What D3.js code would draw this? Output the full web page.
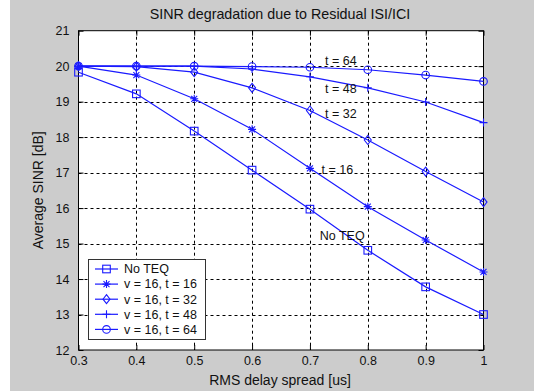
<!DOCTYPE html>
<html>
<head>
<meta charset="utf-8">
<script src="https://cdn.jsdelivr.net/npm/d3@7"></script>
<style>
  html, body { margin: 0; padding: 0; background: #fff; }
  svg { display: block; }
  text { font-family: "Liberation Sans", Arial, sans-serif; fill: #111; }
</style>
</head>
<body>
<svg id="chart" width="534" height="391"></svg>
<script>
// values
var delaySpread = [0.3, 0.4, 0.5, 0.6, 0.7, 0.8, 0.9, 1.0];
var noTeq = [19.83, 19.22, 18.17, 17.07, 15.97, 14.81, 13.78, 13.0];
var t16 = [20.0, 19.75, 19.08, 18.22, 17.12, 16.04, 15.10, 14.2];
var t32 = [20.0, 19.99, 19.83, 19.39, 18.75, 17.92, 17.03, 16.17];
var t48 = [20.0, 20.0, 20.0, 19.92, 19.70, 19.39, 18.99, 18.41];
var t64 = [20.0, 20.0, 20.0, 19.99, 19.97, 19.90, 19.75, 19.57];

var seriesNames = ['No TEQ', 'v = 16, t = 16', 'v = 16, t = 32', 'v = 16, t = 48', 'v = 16, t = 64'];
var seriesMarkers = ['square', 'star', 'diamond', 'plus', 'circle'];
var xTicks = [0.3, 0.4, 0.5, 0.6, 0.7, 0.8, 0.9, 1];
var yTicks = [12, 13, 14, 15, 16, 17, 18, 19, 20, 21];

// in-plot annotations [x, y, text]
var annoX = [0.726, 0.726, 0.726, 0.720, 0.717];
var annoY = [20.15, 19.36, 18.67, 17.09, 15.22];
var annoText = ['t = 64', 't = 48', 't = 32', 't = 16', 'No TEQ'];

var allSeries = [noTeq, t16, t32, t48, t64];
var lineColor = '#1a1aff';

var svg = d3.select('#chart');
var m = {left: 78.5, right: 483.5, top: 30.7, bottom: 350};

// figure background
svg.append('rect').attr('x', 10).attr('y', 0).attr('width', 524).attr('height', 391).attr('fill', '#cccccc');

var x = d3.scaleLinear().domain([0.3, 1]).range([m.left, m.right]);
var y = d3.scaleLinear().domain([12, 21]).range([m.bottom, m.top]);

svg.append('rect')
  .attr('x', m.left).attr('y', m.top)
  .attr('width', m.right - m.left).attr('height', m.bottom - m.top)
  .attr('fill', '#fff');

// grid
var grid = svg.append('g').attr('stroke', '#000').attr('stroke-width', 1).attr('stroke-dasharray', '3,3');
grid.selectAll('line.gx').data(xTicks.slice(1, -1)).enter().append('line')
  .attr('x1', function(d) { return Math.round(x(d)) + 0.5; })
  .attr('x2', function(d) { return Math.round(x(d)) + 0.5; })
  .attr('y1', m.top).attr('y2', m.bottom);
grid.selectAll('line.gy').data(yTicks.slice(1, -1)).enter().append('line')
  .attr('y1', function(d) { return Math.round(y(d)) + 0.5; })
  .attr('y2', function(d) { return Math.round(y(d)) + 0.5; })
  .attr('x1', m.left).attr('x2', m.right);

// axes, ticks pointing inward
var fmtX = function(d) { return d === 1 ? '1' : d3.format('.1f')(d); };
var xAxis = d3.axisBottom(x).tickValues(xTicks).tickSize(-5).tickPadding(6).tickFormat(fmtX);
var yAxis = d3.axisLeft(y).tickValues(yTicks).tickSize(-5).tickPadding(9).tickFormat(d3.format('d'));
var gx = svg.append('g').attr('transform', 'translate(0,' + m.bottom + ')').call(xAxis);
var gy = svg.append('g').attr('transform', 'translate(' + m.left + ',0)').call(yAxis);
svg.append('g').attr('transform', 'translate(0,' + m.top + ')')
  .call(d3.axisTop(x).tickValues(xTicks).tickSize(-5).tickFormat(''));
svg.append('g').attr('transform', 'translate(' + m.right + ',0)')
  .call(d3.axisRight(y).tickValues(yTicks).tickSize(-5).tickFormat(''));
svg.selectAll('.domain').remove();
svg.selectAll('.tick line').attr('stroke', '#000');
svg.selectAll('.tick text').style('font-size', '12.5px').attr('fill', '#111');
gx.selectAll('.tick text').attr('dy', '0.71em');

svg.append('rect')
  .attr('x', m.left).attr('y', m.top)
  .attr('width', m.right - m.left).attr('height', m.bottom - m.top)
  .attr('fill', 'none').attr('stroke', '#000').attr('stroke-width', 1);

// markers
function drawMarker(g, type, cx, cy) {
  var s = 3.8;
  if (type === 'square') {
    g.append('rect').attr('x', cx - s).attr('y', cy - s).attr('width', 2 * s).attr('height', 2 * s)
      .attr('fill', 'none').attr('stroke', lineColor);
  } else if (type === 'circle') {
    g.append('circle').attr('cx', cx).attr('cy', cy).attr('r', s)
      .attr('fill', 'none').attr('stroke', lineColor);
  } else if (type === 'diamond') {
    g.append('path').attr('d', 'M' + cx + ',' + (cy - 4.5) + 'L' + (cx + 3.5) + ',' + cy + 'L' + cx + ',' + (cy + 4.5) + 'L' + (cx - 3.5) + ',' + cy + 'Z')
      .attr('fill', 'none').attr('stroke', lineColor);
  } else if (type === 'plus') {
    g.append('path').attr('d', 'M' + (cx - 4) + ',' + cy + 'H' + (cx + 4) + 'M' + cx + ',' + (cy - 4) + 'V' + (cy + 4))
      .attr('stroke', lineColor);
  } else if (type === 'star') {
    g.append('path').attr('d',
      'M' + (cx - 4) + ',' + cy + 'H' + (cx + 4) + 'M' + cx + ',' + (cy - 4) + 'V' + (cy + 4) +
      'M' + (cx - 3) + ',' + (cy - 3) + 'L' + (cx + 3) + ',' + (cy + 3) +
      'M' + (cx - 3) + ',' + (cy + 3) + 'L' + (cx + 3) + ',' + (cy - 3))
      .attr('stroke', lineColor);
  }
}

var line = d3.line()
  .x(function(d, i) { return x(delaySpread[i]); })
  .y(function(d) { return y(d); });

var plot = svg.append('g');
allSeries.forEach(function(vals, k) {
  plot.append('path').datum(vals).attr('d', line)
    .attr('fill', 'none').attr('stroke', lineColor).attr('stroke-width', 1.2);
  var mg = plot.append('g').attr('stroke-width', 1.1);
  vals.forEach(function(v, i) { drawMarker(mg, seriesMarkers[k], x(delaySpread[i]), y(v)); });
});

// annotations
annoText.forEach(function(t, i) {
  svg.append('text').attr('x', x(annoX[i])).attr('y', y(annoY[i]))
    .attr('dy', '0.35em').style('font-size', '12.5px').text(t);
});

// title and labels
var cx = (m.left + m.right) / 2;
svg.append('text').attr('x', cx - 1).attr('y', 19).attr('text-anchor', 'middle')
  .style('font-size', '14.3px').text('SINR degradation due to Residual ISI/ICI');
svg.append('text').attr('x', cx - 1).attr('y', 385).attr('text-anchor', 'middle')
  .style('font-size', '14px').text('RMS delay spread [us]');
svg.append('text').attr('transform', 'translate(43,' + ((m.top + m.bottom) / 2) + ') rotate(-90)')
  .attr('text-anchor', 'middle').style('font-size', '14px').text('Average SINR [dB]');

// legend
var lg = svg.append('g');
lg.append('rect').attr('x', 88.5).attr('y', 259.5).attr('width', 117).attr('height', 80)
  .attr('fill', '#fff').attr('stroke', '#333');
seriesNames.forEach(function(name, i) {
  var ly = 269 + i * 15.1;
  lg.append('line').attr('x1', 95).attr('x2', 118).attr('y1', ly).attr('y2', ly)
    .attr('stroke', lineColor).attr('stroke-width', 1.2);
  var mg = lg.append('g').attr('stroke-width', 1.1);
  drawMarker(mg, seriesMarkers[i], 106.5, ly);
  lg.append('text').attr('x', 124).attr('y', ly).attr('dy', '0.35em')
    .style('font-size', '12.5px').text(name);
});
</script>
</body>
</html>
